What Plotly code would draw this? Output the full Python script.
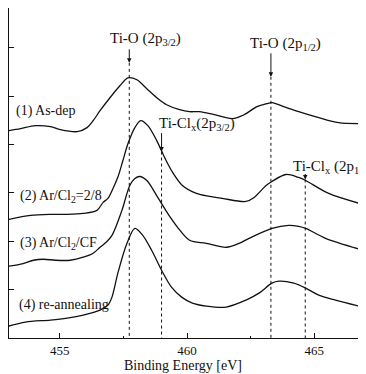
import plotly.graph_objects as go

# ---- data (binding energy in eV, intensity in arbitrary units) ----
E1 = [452.99, 453.46, 454.04, 454.63, 455.02, 455.68, 456.07, 456.31, 456.58, 456.97, 457.36, 457.68,
      458.03, 458.42, 458.81, 459.20, 459.71, 460.10, 460.49, 461.07, 461.78, 462.25, 462.75, 463.14,
      463.34, 463.81, 464.39, 465.18, 465.96, 466.93]
I1 = [208, 210, 213, 212, 209, 207, 211, 218, 228, 241, 253, 261,
      259, 250, 241, 234, 229, 227, 227, 224, 220, 224, 232, 235,
      236, 232, 227, 221, 216, 215]

E2 = [452.99, 453.85, 454.63, 455.29, 455.92, 456.46, 456.70, 456.89, 457.09, 457.29, 457.48, 457.68,
      457.95, 458.18, 458.46, 458.81, 459.12, 459.39, 459.82, 460.37, 460.88, 461.39, 462.32, 462.64,
      463.11, 463.34, 463.89, 464.39, 464.67, 465.57, 466.93]
I2 = [119, 123, 124, 124, 125, 128, 136, 140, 150, 162, 178, 195,
      211, 218, 213, 198, 181, 168, 153, 145, 142, 140, 137, 141,
      153, 157, 164, 161, 158, 145, 134]

E3 = [452.99, 453.46, 453.96, 454.36, 454.82, 455.41, 455.92, 456.31, 456.58, 456.82, 457.05, 457.44,
      457.75, 457.95, 458.14, 458.42, 458.85, 459.24, 459.63, 460.10, 460.76, 461.54, 462.05, 462.44,
      463.34, 464.00, 464.39, 464.67, 465.45, 466.93]
I3 = [72, 74, 78, 79, 78, 78, 81, 85, 91, 96, 103, 128,
      153, 160, 162, 158, 141, 125, 111, 98, 95, 91, 95, 100,
      110, 113, 112, 110, 100, 88]

E4 = [452.99, 453.65, 454.63, 455.29, 455.92, 456.58, 456.89, 457.05, 457.29, 457.64, 457.95, 458.26,
      458.61, 459.00, 459.39, 459.79, 460.21, 460.76, 461.54, 462.32, 462.83, 463.34, 463.61, 464.20,
      464.67, 465.18, 465.84, 466.93]
I4 = [12, 16, 18, 20, 23, 28, 33, 41, 66, 95, 110, 103,
      88, 68, 51, 41, 35, 32, 31, 38, 45, 55, 57, 55,
      50, 43, 38, 31]

series_E = [E1, E2, E3, E4]
series_I = [I1, I2, I3, I4]
series_labels = ["(1) As-dep", "(2) Ar/Cl<sub>2</sub>=2/8", "(3) Ar/Cl<sub>2</sub>/CF", "(4) re-annealing"]
label_E = [453.18, 453.34, 453.34, 453.30]
label_I = [228, 142, 95, 33]

# reference peak positions
peak_E = [457.73, 459.00, 463.30, 464.65]
peak_names = ["Ti-O (2p<sub>3/2</sub>)", "Ti-Cl<sub>x</sub>(2p<sub>3/2</sub>)",
              "Ti-O (2p<sub>1/2</sub>)", "Ti-Cl<sub>x</sub> (2p<sub>1/2</sub>)"]
peak_text_E = [456.89, 458.81, 462.40, 464.08]
peak_text_I = [300, 215, 295, 172]
arrow_top = [291, 207, 287, 166]
arrow_tip = [276, 187, 262, 159]

x_ticks = [455, 460, 465]
x_range = [453, 467]
y_range = [0, 331]

FONT = "Liberation Serif, Times New Roman, serif"
INK = "#111111"

fig = go.Figure()

for E, I in zip(series_E, series_I):
    fig.add_trace(go.Scatter(x=E, y=I, mode="lines",
                             line=dict(color=INK, width=1.3, shape="spline", smoothing=0.9),
                             showlegend=False, hoverinfo="skip"))

# dotted marker lines from arrow tips down to the axis
for e, tip in zip(peak_E, arrow_tip):
    fig.add_trace(go.Scatter(x=[e, e], y=[tip, y_range[0]], mode="lines",
                             line=dict(color=INK, width=1, dash="dot"),
                             showlegend=False, hoverinfo="skip"))

annotations = []
for txt, xe, yi in zip(series_labels, label_E, label_I):
    annotations.append(dict(x=xe, y=yi, text=txt, showarrow=False, xanchor="left", yanchor="middle",
                            font=dict(family=FONT, size=14, color=INK)))
for txt, xe, yi in zip(peak_names, peak_text_E, peak_text_I):
    annotations.append(dict(x=xe, y=yi, text=txt, showarrow=False, xanchor="left", yanchor="middle",
                            font=dict(family=FONT, size=15, color=INK)))
for e, top, tip in zip(peak_E, arrow_top, arrow_tip):
    annotations.append(dict(x=e, y=tip, ax=e, ay=top, axref="x", ayref="y", xref="x", yref="y",
                            text="", showarrow=True, arrowhead=2, arrowsize=0.9, arrowwidth=1,
                            arrowcolor=INK))
annotations.append(dict(x=459.85, y=-0.056, xref="x", yref="paper", text="Binding Energy [eV]",
                        showarrow=False, xanchor="center", yanchor="top",
                        font=dict(family=FONT, size=14, color=INK)))

# page body adds an 8px margin, so the figure is sized to fit the 366x374 window
fig.update_layout(
    width=358, height=366,
    margin=dict(l=1, r=1, t=0, b=36),
    paper_bgcolor="white", plot_bgcolor="white",
    annotations=annotations,
    font=dict(family=FONT, color=INK),
)
fig.update_xaxes(range=x_range, tickvals=x_ticks, ticks="inside", ticklen=5, tickwidth=1.2,
                 tickcolor=INK, showgrid=False, zeroline=False, showline=True, linecolor=INK,
                 linewidth=1.2, mirror=True, tickfont=dict(family=FONT, size=13, color=INK),
                 ticklabelstandoff=0,
                 minor=dict(dtick=2.5, tick0=452.5, ticks="inside", ticklen=2, tickcolor=INK))
fig.update_yaxes(range=y_range, tick0=0, dtick=48.5, ticks="inside", ticklen=5, tickwidth=1.2,
                 tickcolor=INK, showticklabels=False, showgrid=False, zeroline=False,
                 showline=True, linecolor=INK, linewidth=1.2, mirror=True)

fig.write_html("out.html")
